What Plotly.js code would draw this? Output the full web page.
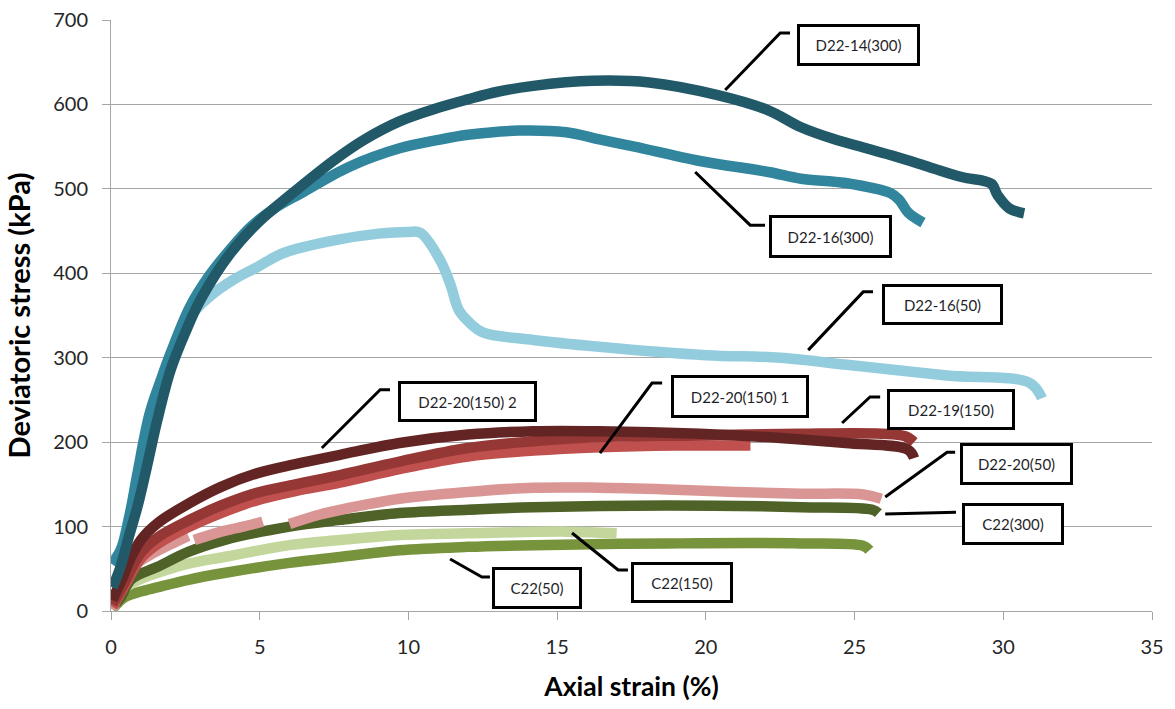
<!DOCTYPE html>
<html>
<head>
<meta charset="utf-8">
<script src="https://cdn.plot.ly/plotly-3.0.1.min.js"></script>
<style>html,body{margin:0;padding:0;background:#fff;}#chart{width:1175px;height:709px;}</style>
</head>
<body>
<div id="chart"></div>
<script>
// ---- Data (axial strain %, deviatoric stress kPa) ----
const c22_50_x  = [0.05,0.3,0.5,1.0,1.55,2.6,3.8,6.0,7.7,9.7,12.0,14.2,18.7,23.2,25.3,25.5];
const c22_50_y  = [2,12,17,23,28,37,45,57,64,72,76,78,80,80,77,72];

const c22_150_x = [0.05,0.3,0.5,1.0,1.55,2.6,3.8,6.0,7.7,9.7,12.0,15.3,17.0];
const c22_150_y = [3,18,28,38,45,56,64,78,84,90,92,94,92];

const c22_300_x = [0.05,0.3,0.7,1.55,2.6,3.8,6.0,7.7,9.7,12.0,14.2,18.7,23.2,25.6,25.8];
const c22_300_y = [5,15,38,52,70,84,100,108,116,120,123,125,123,120,116];

const d2020_50_x = [0.05,0.3,0.6,1.2,2.0,2.6,null,2.8,3.5,4.2,4.8,5.1,null,6.0,7.0,8.0,9.7,12.0,14.2,16.4,18.7,21.0,23.2,25.3,25.9];
const d2020_50_y = [2,25,48,64,79,89,null,84,92,98,103,106,null,103,114,122,133,141,146,146,144,141,139,138,133];

const d2020_150_1_x = [0.05,0.4,1.0,1.6,2.65,3.7,4.9,6.2,7.7,9.7,12.0,14.2,16.4,19.0,21.5];
const d2020_150_1_y = [5,26,62,80,100,116,131,142,152,168,183,190,194,196,196];

const d2219_150_x = [0.05,0.4,1.0,1.6,2.65,3.7,4.9,6.2,7.7,9.7,12.0,14.2,16.4,19.8,23.2,25.9,26.7,27.0];
const d2219_150_y = [8,30,69,88,108,125,140,150,161,177,193,201,206,208,210,210,207,200];

const d2020_150_2_x = [0.05,0.2,0.4,0.6,1.0,1.6,2.65,3.7,4.9,6.2,7.7,9.7,12.0,14.2,16.4,19.8,22.5,24.7,26.8,27.0];
const d2020_150_2_y = [13,25,40,58,84,105,128,147,163,174,185,199,209,213,213,210,205,199,191,181];

const d2216_50_x = [0.05,0.3,0.6,1.0,1.5,2.0,2.7,3.3,4.1,4.9,5.8,7.5,9.0,10.0,10.4,11.06,11.4,11.7,12.07,12.5,14.2,16.4,20.0,22.5,24.9,28.1,30.9,31.3];
const d2216_50_y = [60,70,110,160,230,290,350,372,392,407,424,439,447,449,448,416,388,356,341,330,321,313,303,300,291,279,270,252];

const d2216_300_x = [0.05,0.37,0.64,0.9,1.3,1.7,2.0,2.65,3.3,4.0,4.7,5.5,6.4,8.0,9.7,11.0,12.0,13.7,15.3,16.5,17.6,19.8,22.1,23.2,24.7,26.2,26.5,26.8,27.3];
const d2216_300_y = [55,76,116,165,234,276,305,360,397,428,455,477,495,526,548,558,564,569,567,558,550,533,520,512,507,495,487,472,460];

const d2214_300_x = [0.05,0.3,0.6,0.9,1.2,1.55,2.0,2.5,3.0,4.0,5.0,6.0,7.5,8.5,9.7,11.0,12.0,13.0,14.2,16.2,18.1,20.4,22.1,23.2,24.3,25.3,26.4,27.5,28.6,29.6,29.8,30.2,30.7];
const d2214_300_y = [28,50,88,125,170,225,285,330,368,423,462,492,534,558,580,596,606,615,622,628,626,611,593,573,559,549,538,526,514,506,493,477,471];

const seriesNames = ["C22(50)","C22(150)","C22(300)","D22-20(50)","D22-20(150) 1","D22-19(150)","D22-20(150) 2","D22-16(50)","D22-16(300)","D22-14(300)"];
const seriesColors = ["#77933C","#C3D69B","#4F6228","#D99694","#C0504D","#953735","#632523","#93CDDD","#31859C","#215968"];
const seriesX = [c22_50_x,c22_150_x,c22_300_x,d2020_50_x,d2020_150_1_x,d2219_150_x,d2020_150_2_x,d2216_50_x,d2216_300_x,d2214_300_x];
const seriesY = [c22_50_y,c22_150_y,c22_300_y,d2020_50_y,d2020_150_1_y,d2219_150_y,d2020_150_2_y,d2216_50_y,d2216_300_y,d2214_300_y];

// Label boxes: text, box centre (x,y), box size (px), leader polyline (data coords)
const labelText = ["D22-14(300)","D22-16(300)","D22-16(50)","D22-20(150) 2","D22-20(150) 1","D22-19(150)","D22-20(50)","C22(300)","C22(50)","C22(150)"];
const labelX = [25.12,24.18,27.94,11.97,21.15,28.24,30.46,30.33,14.32,19.20];
const labelY = [670.4,443,363.6,248.7,254.6,239,174,103,27,34.3];
const labelW = [120,120,118,136,135,125,110,99,87,99];
const labelH = [39,40,38,38,40,38,39,39,39,38];
const leaderX = [[20.65,22.5,22.83],[19.64,21.49,21.99],[23.44,25.29,25.62],[7.09,9.05,9.38],[16.44,18.19,18.53],[24.58,25.52,25.86],[26.03,28.11,28.38],[26.03,28.41],[11.40,12.47,12.74],[15.50,17.05,17.38]];
const leaderY = [[617,684.6,684.6],[520,457,457],[309,378,378],[193,262,262],[187,270,270],[222.7,253.5,253.5],[135,188,188],[115,117],[61.6,40.3,40.3],[92.4,48.6,48.6]];

const traces = seriesNames.map((n,i)=>({
  type:'scatter', mode:'lines', name:n, x:seriesX[i], y:seriesY[i],
  connectgaps:false,
  line:{color:seriesColors[i], width:10.5, shape:'spline', smoothing:1},
  hoverinfo:'x+y+name'
}));

const shapes = leaderX.map((xs,i)=>({
  type:'path', xref:'x', yref:'y',
  path: xs.map((x,j)=>(j?'L':'M')+x+','+leaderY[i][j]).join(' '),
  line:{color:'#000', width:3}
}));

const annotations = labelText.map((t,i)=>({
  text:t, x:labelX[i], y:labelY[i], xref:'x', yref:'y',
  xanchor:'center', yanchor:'middle', showarrow:false,
  width:labelW[i]-3, height:labelH[i]-3, borderpad:0,
  bordercolor:'#000', borderwidth:3, bgcolor:'#fff',
  font:{family:'Lato, sans-serif', size:15, color:'#1f1f2a'}
}));

const layout = {
  width:1175, height:709,
  margin:{l:111, r:23, t:20, b:98},
  paper_bgcolor:'#fff', plot_bgcolor:'#fff',
  showlegend:false,
  font:{family:'Lato, sans-serif', color:'#262626'},
  xaxis:{
    range:[0,35], dtick:5, tick0:0, showgrid:false, zeroline:false,
    showline:true, linecolor:'#A6A6A6', linewidth:1,
    ticks:'outside', ticklen:8, tickcolor:'#A6A6A6', tickwidth:1,
    ticklabelstandoff:10,
    tickfont:{family:'Lato, sans-serif', size:20, color:'#262626'},
    title:{text:'Axial strain (%)', font:{family:'Lato, sans-serif', size:26.5, color:'#000', weight:'bold'}, standoff:20}
  },
  yaxis:{
    range:[0,700], dtick:100, tick0:0, showgrid:true, gridcolor:'#A6A6A6', gridwidth:1, zeroline:false,
    showline:true, linecolor:'#A6A6A6', linewidth:1,
    ticks:'outside', ticklen:8, tickcolor:'#A6A6A6', tickwidth:1,
    ticklabelstandoff:10,
    tickfont:{family:'Lato, sans-serif', size:20, color:'#262626'},
    title:{text:'Deviatoric stress (kPa)', font:{family:'Lato, sans-serif', size:29, color:'#000', weight:'bold'}, standoff:14}
  },
  shapes:shapes,
  annotations:annotations
};

Plotly.newPlot('chart', traces, layout, {displayModeBar:false, staticPlot:true});
</script>
</body>
</html>
